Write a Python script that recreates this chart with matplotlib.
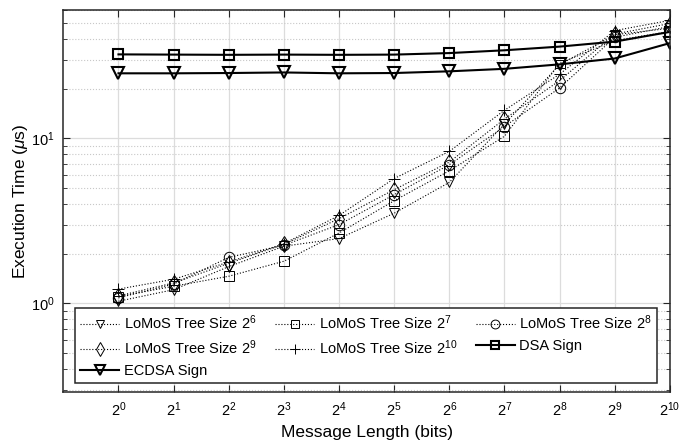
import matplotlib
matplotlib.use('Agg')
import matplotlib.pyplot as plt
import numpy as np
from matplotlib.ticker import LogLocator, NullLocator, FixedLocator, FixedFormatter

# fonts: helvetica-like text, math in the same face
plt.rcParams['font.family'] = ['Liberation Sans', 'DejaVu Sans']
plt.rcParams['mathtext.fontset'] = 'custom'
plt.rcParams['mathtext.rm'] = 'Liberation Sans'
plt.rcParams['mathtext.it'] = 'Liberation Sans:italic'
plt.rcParams['mathtext.default'] = 'regular'

# data (message length = 2^exp bits, time in microseconds)
exps = np.arange(0, 11)
msg_len = 2.0 ** exps
lomos_6 = [1.03, 1.21, 1.67, 2.22, 2.47, 3.52, 5.41, 12.2, 28.0, 42.5, 46.5]
lomos_7 = [1.10, 1.27, 1.46, 1.80, 2.67, 4.19, 6.36, 10.3, 28.5, 39.2, 44.5]
lomos_8 = [1.08, 1.31, 1.90, 2.25, 3.00, 4.56, 6.92, 11.8, 20.2, 41.0, 47.7]
lomos_9 = [1.11, 1.33, 1.75, 2.28, 3.26, 4.89, 7.18, 13.1, 22.4, 42.9, 49.7]
lomos_10 = [1.22, 1.40, 1.78, 2.30, 3.41, 5.71, 8.34, 14.8, 24.5, 45.0, 51.9]
dsa_sign = [32.3, 32.2, 32.1, 32.2, 32.1, 32.2, 32.9, 34.2, 36.0, 38.6, 44.2]
ecdsa_sign = [24.8, 24.8, 24.9, 25.1, 24.8, 24.9, 25.5, 26.4, 28.1, 30.5, 37.8]

fig = plt.figure(figsize=(6.92, 4.45), dpi=100)
ax = fig.add_axes([0.0915, 0.119, 0.8765, 0.8585])

lom_style = dict(color='black', linestyle=':', linewidth=0.8,
                 markerfacecolor='none', markeredgecolor='black', markeredgewidth=0.7)
h6, = ax.plot(msg_len, lomos_6, marker='v', markersize=7.5, label='LoMoS Tree Size $2^{6}$', **lom_style)
h7, = ax.plot(msg_len, lomos_7, marker='s', markersize=6.5, label='LoMoS Tree Size $2^{7}$', **lom_style)
h8, = ax.plot(msg_len, lomos_8, marker='o', markersize=7.5, label='LoMoS Tree Size $2^{8}$', **lom_style)
h9, = ax.plot(msg_len, lomos_9, marker='d', markersize=8.5, label='LoMoS Tree Size $2^{9}$', **lom_style)
h10, = ax.plot(msg_len, lomos_10, marker='+', markersize=8, label='LoMoS Tree Size $2^{10}$', **lom_style)
hd, = ax.plot(msg_len, dsa_sign, color='black', linewidth=1.5, marker='s', markersize=6.5,
              markerfacecolor='none', markeredgewidth=1.5, label='DSA Sign')
he, = ax.plot(msg_len, ecdsa_sign, color='black', linewidth=1.5, marker='v', markersize=8.5,
              markerfacecolor='none', markeredgewidth=1.5, label='ECDSA Sign')

ax.set_xscale('log', base=2)
ax.set_yscale('log')
ax.set_xlim(2 ** -1, 2 ** 10)
ax.set_ylim(0.29, 60)

ax.xaxis.set_major_locator(FixedLocator(msg_len))
ax.xaxis.set_major_formatter(FixedFormatter(['$2^{%d}$' % e for e in exps]))
ax.xaxis.set_minor_locator(NullLocator())
ax.yaxis.set_major_locator(FixedLocator([1, 10]))
ax.yaxis.set_major_formatter(FixedFormatter(['$10^{0}$', '$10^{1}$']))
ax.yaxis.set_minor_locator(LogLocator(base=10, subs=np.arange(2, 10), numticks=20))

ax.tick_params(which='both', direction='in', top=True, right=True, colors='#262626',
               labelsize=10.5, labelcolor='black')
ax.tick_params(which='major', length=5, width=0.8, pad=6)
ax.tick_params(which='minor', length=3, width=0.6)
for s in ax.spines.values():
    s.set_color('#262626')
    s.set_linewidth(1.1)

ax.grid(which='major', color='#dcdcdc', linestyle='-', linewidth=0.9)
ax.grid(which='minor', axis='y', color='#c8c8c8', linestyle=':', linewidth=0.8)
ax.set_axisbelow(True)

ax.set_xlabel('Message Length (bits)', fontsize=12.5, labelpad=4)
ax.set_ylabel(r'Execution Time ($\mathit{\mu}$s)', fontsize=12.5, labelpad=1)

# matplotlib fills legend columns first, so reorder to get MATLAB-like rows
handles = [h6, h9, he, h7, h10, h8, hd]
leg = ax.legend(handles=handles, labels=[h.get_label() for h in handles],
                loc='lower left', bbox_to_anchor=(0.019, 0.024, 0.960, 0.232),
                mode='expand', ncol=3, fontsize=10.5, borderaxespad=0,
                handlelength=2.7, handletextpad=0.3, labelspacing=0.45,
                borderpad=0.35, fancybox=False, framealpha=1, edgecolor='#262626',
                markerscale=0.85)
leg.get_frame().set_linewidth(1.1)

plt.savefig('out.png', dpi=100)
